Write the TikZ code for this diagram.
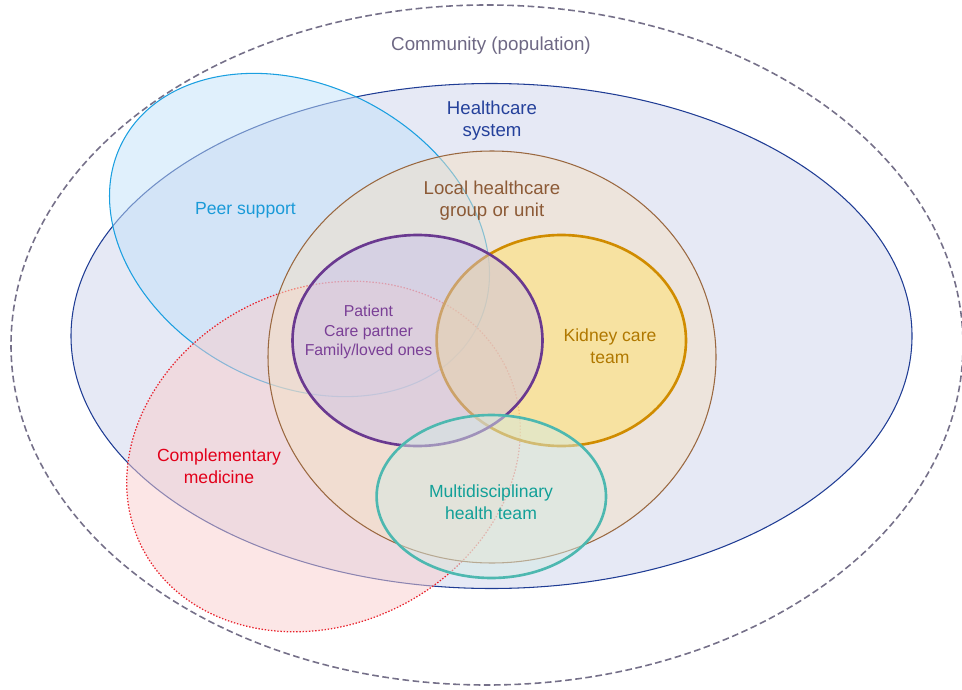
\documentclass[tikz,border=0pt]{standalone}
\usepackage{fontspec}
\setmainfont{Liberation Sans}

\definecolor{commline}{HTML}{757089}
\definecolor{commtext}{HTML}{6E6884}
\definecolor{hcfill}{HTML}{E6E9F5}
\definecolor{hcline}{HTML}{1F3C94}
\definecolor{hctext}{HTML}{25419B}
\definecolor{peerfill}{HTML}{C1E1F9}
\definecolor{peerline}{HTML}{1A9FE0}
\definecolor{peertext}{HTML}{1A9AD8}
\definecolor{compfill}{HTML}{F9CDCD}
\definecolor{compline}{HTML}{E8202A}
\definecolor{comptext}{HTML}{E2001A}
\definecolor{localfill}{HTML}{F4E0C4}
\definecolor{localline}{HTML}{9A6840}
\definecolor{localtext}{HTML}{8C5A36}
\definecolor{kidfill}{HTML}{FEE17B}
\definecolor{kidline}{HTML}{D08C00}
\definecolor{kidtext}{HTML}{B07800}
\definecolor{patfill}{HTML}{C8BEEB}
\definecolor{patline}{HTML}{6A3990}
\definecolor{pattext}{HTML}{7A3F96}
\definecolor{multfill}{HTML}{D4EAE4}
\definecolor{multline}{HTML}{4DB8B0}
\definecolor{multtext}{HTML}{12A098}

\begin{document}
\begin{tikzpicture}[x=0.02cm,y=-0.02cm,font=\fontsize{10}{12.5}\selectfont,
  thin ring/.style={line width=0.6pt},
  thick ring/.style={line width=1.5pt},
  lbl/.style={align=center,inner sep=0pt},
  big/.style={font=\fontsize{10.6}{12.5}\selectfont}]

\useasboundingbox (0,0) rectangle (962,689);

\begin{scope}
\coordinate (c) at (487,345);
\coordinate (h) at (491.5,336);
\coordinate (s) at (299.5,235);
\coordinate (m) at (323.5,456.5);
\coordinate (l) at (492,357);
\coordinate (k) at (561.3,340.5);
\coordinate (p) at (417.5,340.5);
\coordinate (t) at (491.3,496.5);

\draw[commline,line width=0.9pt,dash pattern=on 3.8pt off 2pt] (c) ellipse [x radius=476,y radius=340];
\draw[thin ring,hcline,fill=hcfill] (h) ellipse [x radius=420.5,y radius=252.5];
\draw[thin ring,peerline,fill=peerfill,fill opacity=0.5,rotate around={-28:(s)}] (s) ellipse [x radius=200,y radius=149];
\draw[compline,line width=0.7pt,dash pattern=on 0.8pt off 1pt,fill=compfill,fill opacity=0.5,rotate around={26:(m)}] (m) ellipse [x radius=203,y radius=168];
\draw[thin ring,localline,fill=localfill,fill opacity=0.5] (l) ellipse [x radius=224,y radius=206];
\draw[thick ring,kidline,fill=kidfill,fill opacity=0.6] (k) ellipse [x radius=124.7,y radius=105.5];
\draw[thick ring,patline,fill=patfill,fill opacity=0.45] (p) ellipse [x radius=125,y radius=105.5];
\draw[thick ring,multline,fill=multfill,fill opacity=0.5] (t) ellipse [x radius=114.7,y radius=81.5];
\end{scope}

% labels
\node[lbl,text=commtext,font=\fontsize{10.7}{13}\selectfont] (community) at (491,45.5) {Community (population)};
\node[lbl,big,text=hctext] (healthcare) at (492,121) {Healthcare\\system};
\node[lbl,big,text=localtext] (local) at (492,201) {Local healthcare\\group or unit};
\node[lbl,text=peertext] (peer) at (245.5,210) {Peer support};
\node[lbl,text=pattext,font=\fontsize{9}{10.9}\selectfont] (patient) at (368.5,332) {Patient\\Care partner\\Family/loved ones};
\node[lbl,text=kidtext] (kidney) at (610,345.8) {Kidney care\\team};
\node[lbl,text=multtext] (multi) at (491,502.3) {Multidisciplinary\\health team};
\node[lbl,text=comptext] (comp) at (219,466.5) {Complementary\\medicine};

\end{tikzpicture}
\end{document}
